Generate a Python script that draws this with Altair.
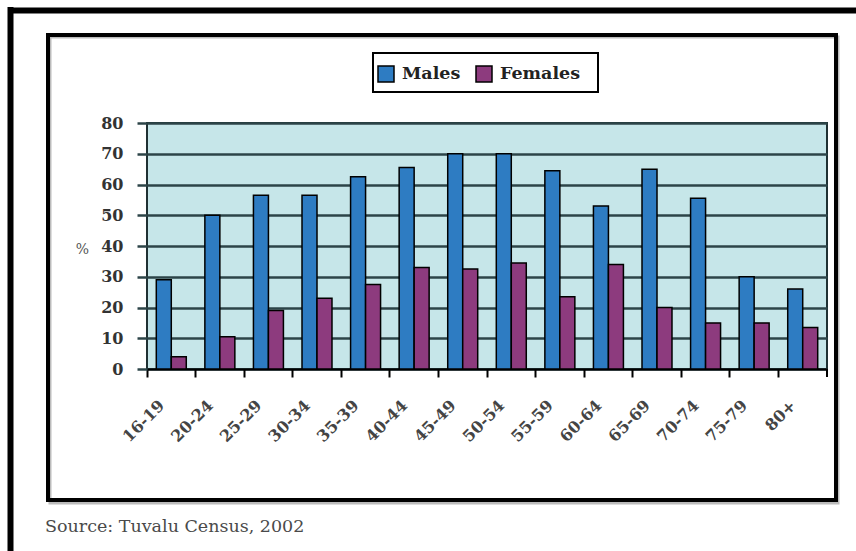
import altair as alt
import pandas as pd

# Share of population (%) by age group and sex
age_groups = ["16-19", "20-24", "25-29", "30-34", "35-39", "40-44", "45-49",
              "50-54", "55-59", "60-64", "65-69", "70-74", "75-79", "80+"]
males = [29, 50, 56.5, 56.5, 62.5, 65.5, 70, 70, 64.5, 53, 65, 55.5, 30, 26]
females = [4, 10.5, 19, 23, 27.5, 33, 32.5, 34.5, 23.5, 34, 20, 15, 15, 13.5]
series = ["Males", "Females"]
series_colors = ["#2e7cc2", "#8d3b7e"]
y_ticks = [0, 10, 20, 30, 40, 50, 60, 70, 80]
source_note = "Source: Tuvalu Census, 2002"

rows = []
for i, g in enumerate(age_groups):
    rows.append({"age": g, "sex": "Males", "pct": males[i]})
    rows.append({"age": g, "sex": "Females", "pct": females[i]})
df = pd.DataFrame(rows)

SERIF = "DejaVu Serif"
W, H = 680, 246

bars = alt.Chart(df).mark_bar(stroke="black", strokeWidth=1.5).encode(
    x=alt.X("age:N", sort=age_groups,
            scale=alt.Scale(paddingInner=0, paddingOuter=0),
            axis=alt.Axis(title=None, labelAngle=-45, labelAlign="right",
                          labelBaseline="top", bandPosition=0, labelOffset=-15,
                          labelPadding=20, tickSize=8, tickColor="black",
                          tickWidth=2, domainColor="black", domainWidth=2,
                          labelFont=SERIF, labelFontWeight="bold",
                          labelFontSize=16, labelColor="#444")),
    xOffset=alt.XOffset("sex:N", sort=series,
                        scale=alt.Scale(paddingOuter=0.62, paddingInner=0)),
    y=alt.Y("pct:Q", scale=alt.Scale(domain=[0, 80], nice=False),
            axis=alt.Axis(values=y_ticks, title="%", titleAngle=0,
                          titleX=-65, titleY=126, titleAlign="center",
                          titleBaseline="middle", titleFont=SERIF,
                          titleFontWeight="normal", titleFontSize=14,
                          titleColor="#555", grid=True, gridColor="#2c4448",
                          gridWidth=2.5, gridOpacity=1, tickSize=10,
                          tickColor="#2c4448", tickWidth=2.5, domain=False,
                          labelPadding=14, labelFont=SERIF,
                          labelFontWeight="bold", labelFontSize=16,
                          labelColor="#333")),
    color=alt.Color("sex:N", sort=series,
                    scale=alt.Scale(domain=series, range=series_colors),
                    legend=alt.Legend(title=None, orient="none", legendX=230,
                                      legendY=-58, direction="horizontal",
                                      symbolType="square", symbolSize=256,
                                      symbolStrokeColor="black",
                                      symbolStrokeWidth=1.5, symbolOpacity=1,
                                      labelFont=SERIF, labelFontWeight="bold",
                                      labelFontSize=17.5, labelColor="#222",
                                      labelOffset=7, columnPadding=12,
                                      padding=0)),
)

one = pd.DataFrame({"k": [0]})

# Page frame: heavy rules along the top and left edge
page_top = alt.Chart(one).mark_rule(color="black", strokeWidth=6).encode(
    x=alt.value(-137), x2=alt.value(W + 29), y=alt.value(-112.5))
page_left = alt.Chart(one).mark_rule(color="black", strokeWidth=6).encode(
    x=alt.value(-136.5), y=alt.value(-116), y2=alt.value(H + 182))

# Box around the figure, with a faint shadow
shadow = alt.Chart(one).mark_rect(fill=None, stroke="#bbbbbb", strokeWidth=3).encode(
    x=alt.value(-97), x2=alt.value(691), y=alt.value(-86), y2=alt.value(380))
frame = alt.Chart(one).mark_rect(fill=None, stroke="black", strokeWidth=4).encode(
    x=alt.value(-99), x2=alt.value(689), y=alt.value(-88), y2=alt.value(377))

# Legend border
legend_box = alt.Chart(one).mark_rect(fill=None, stroke="black", strokeWidth=2).encode(
    x=alt.value(226), x2=alt.value(451), y=alt.value(-70), y2=alt.value(-31))

# Closing tick at the right end of the category axis
end_tick = alt.Chart(one).mark_rule(color="black", strokeWidth=2).encode(
    x=alt.value(W), y=alt.value(H), y2=alt.value(H + 8))

source = alt.Chart(pd.DataFrame({"t": [source_note]})).mark_text(
    align="left", baseline="middle", font=SERIF, fontSize=17.5, color="#4a4a4a"
).encode(text="t:N", x=alt.value(-102), y=alt.value(404))

chart = alt.layer(page_top, page_left, shadow, frame, legend_box, bars,
                  end_tick, source).properties(
    width=W, height=H,
    autosize=alt.AutoSizeParams(type="none"),
    padding={"left": 147, "top": 123, "right": 29, "bottom": 182},
    background="white",
).configure_view(fill="#c6e6e9", stroke="#1f3033", strokeWidth=2)

chart.save("out.html", embed_options={"renderer": "svg", "actions": False})
